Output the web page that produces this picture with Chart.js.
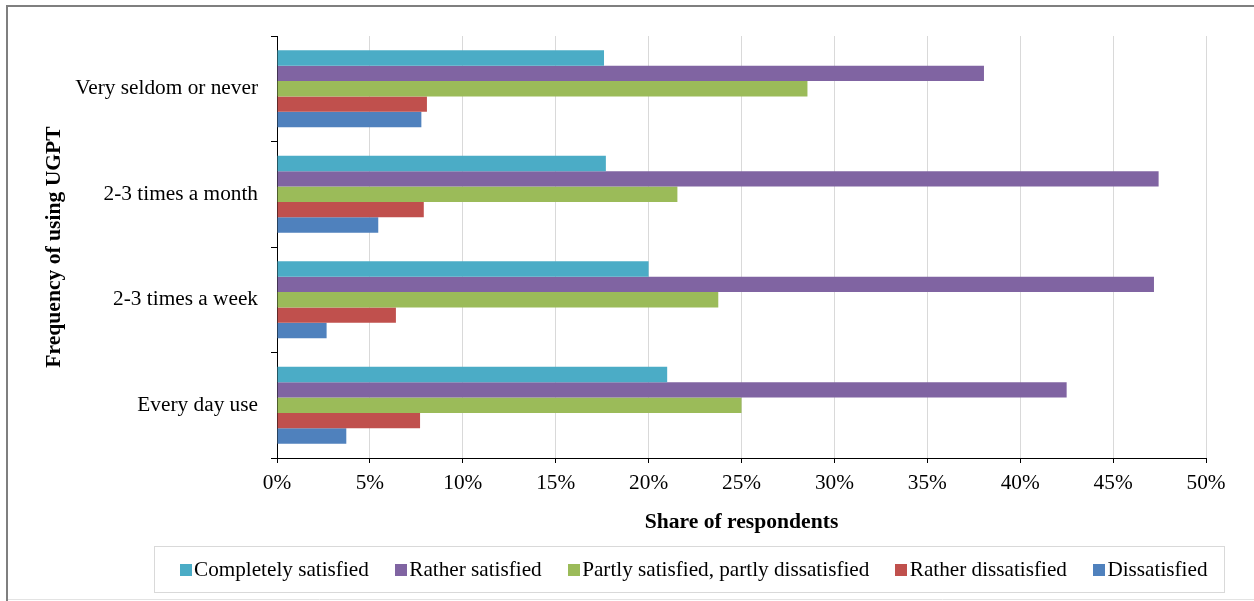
<!DOCTYPE html>
<html>
<head>
<meta charset="utf-8">
<script src="https://cdn.jsdelivr.net/npm/chart.js@4.4.1/dist/chart.umd.min.js"></script>
<style>
  html, body { margin: 0; padding: 0; background: #ffffff; }
  #wrap { position: relative; width: 1254px; height: 601px; }
</style>
</head>
<body>
<div id="wrap"><canvas id="chart" width="1254" height="601"></canvas></div>
<script>
// Usage frequency groups (top to bottom)
const categories = ['Very seldom or never', '2-3 times a month', '2-3 times a week', 'Every day use'];

// Satisfaction levels, share of respondents in %
const seriesNames = [
  'Completely satisfied',
  'Rather satisfied',
  'Partly satisfied, partly dissatisfied',
  'Rather dissatisfied',
  'Dissatisfied'
];
const completelySatisfied = [17.6, 17.7, 20.0, 21.0];
const ratherSatisfied     = [38.05, 47.45, 47.2, 42.5];
const partlySatisfied     = [28.55, 21.55, 23.75, 25.0];
const ratherDissatisfied  = [8.07, 7.9, 6.4, 7.7];
const dissatisfied        = [7.77, 5.45, 2.67, 3.73];

const seriesColors = ['#4BACC6', '#8064A2', '#9BBB59', '#C0504D', '#4F81BD'];
const xTickValues = [0, 5, 10, 15, 20, 25, 30, 35, 40, 45, 50];

const seriesValues = [completelySatisfied, ratherSatisfied, partlySatisfied, ratherDissatisfied, dissatisfied];

const FONT = "'Liberation Serif', 'Times New Roman', serif";

// Frame around the whole figure
const framePlugin = {
  id: 'frame',
  beforeDraw(chart) {
    const ctx = chart.ctx;
    ctx.save();
    ctx.fillStyle = '#ffffff';
    ctx.fillRect(0, 0, chart.width, chart.height);
    ctx.strokeStyle = '#7f7f7f';
    ctx.lineWidth = 2;
    ctx.beginPath();
    ctx.moveTo(7, chart.height + 2);
    ctx.lineTo(7, 6);
    ctx.lineTo(chart.width + 2, 6);
    ctx.stroke();
    ctx.strokeStyle = '#e3e3e3';
    ctx.lineWidth = 1;
    ctx.beginPath();
    ctx.moveTo(8, 599.5);
    ctx.lineTo(chart.width, 599.5);
    ctx.stroke();
    ctx.restore();
  }
};

// Boxed legend in a single row below the axis title
const boxedLegend = {
  id: 'boxedLegend',
  afterDraw(chart) {
    const ctx = chart.ctx;
    const box = { left: 154.5, top: 546.5, right: 1224.5, bottom: 592.5 };
    ctx.save();
    ctx.strokeStyle = '#d9d9d9';
    ctx.lineWidth = 1;
    ctx.strokeRect(box.left, box.top, box.right - box.left, box.bottom - box.top);

    ctx.font = '21.2px ' + FONT;
    const sq = 12, gap = 2.5, spacing = 26;
    const items = chart.data.datasets.map(ds => ({
      text: ds.label, color: ds.backgroundColor, w: ctx.measureText(ds.label).width
    }));
    const total = items.reduce((s, it) => s + sq + gap + it.w, 0) + spacing * (items.length - 1);
    let x = (box.left + box.right) / 2 - total / 2 + 4;
    const cy = (box.top + box.bottom) / 2;
    ctx.textBaseline = 'middle';
    ctx.textAlign = 'left';
    items.forEach(it => {
      ctx.fillStyle = it.color;
      ctx.fillRect(Math.round(x), Math.round(cy - sq / 2), sq, sq);
      ctx.fillStyle = '#000000';
      ctx.fillText(it.text, x + sq + gap, cy + 1);
      x += sq + gap + it.w + spacing;
    });
    ctx.restore();
  }
};

const datasets = seriesNames.map((name, i) => ({
  label: name,
  data: seriesValues[i],
  backgroundColor: seriesColors[i],
  borderWidth: 0,
  categoryPercentage: 0.73,
  barPercentage: 1.0
}));

new Chart(document.getElementById('chart'), {
  type: 'bar',
  data: { labels: categories, datasets },
  plugins: [framePlugin, boxedLegend],
  options: {
    indexAxis: 'y',
    responsive: false,
    animation: false,
    layout: { padding: { left: 40, top: 36, right: 48, bottom: 61 } },
    plugins: {
      legend: { display: false },
      tooltip: { enabled: false }
    },
    scales: {
      x: {
        min: 0,
        max: 50,
        afterBuildTicks(scale) {
          scale.ticks = xTickValues.map(v => ({ value: v }));
        },
        afterFit(scale) { scale.height = 82; },
        grid: {
          color: '#d9d9d9',
          lineWidth: 1,
          tickColor: '#000000',
          tickLength: 5,
          drawTicks: true
        },
        border: { display: true, color: '#000000', width: 1 },
        ticks: {
          color: '#000000',
          font: { family: FONT, size: 21.3 },
          padding: 8,
          callback: v => v + '%'
        },
        title: {
          display: true,
          text: 'Share of respondents',
          color: '#000000',
          font: { family: FONT, size: 21.6, weight: 'bold' },
          padding: { top: 0, bottom: 5 }
        }
      },
      y: {
        afterFit(scale) { scale.width = 237; },
        grid: {
          drawOnChartArea: false,
          tickColor: '#000000',
          tickLength: 6,
          offset: true
        },
        border: { display: true, color: '#000000', width: 1 },
        ticks: {
          color: '#000000',
          font: { family: FONT, size: 21.3 },
          padding: 13
        },
        title: {
          display: true,
          text: 'Frequency of using UGPT',
          color: '#000000',
          font: { family: FONT, size: 21.6, weight: 'bold' },
          padding: { top: 1, bottom: 0 }
        }
      }
    }
  }
});
</script>
</body>
</html>
